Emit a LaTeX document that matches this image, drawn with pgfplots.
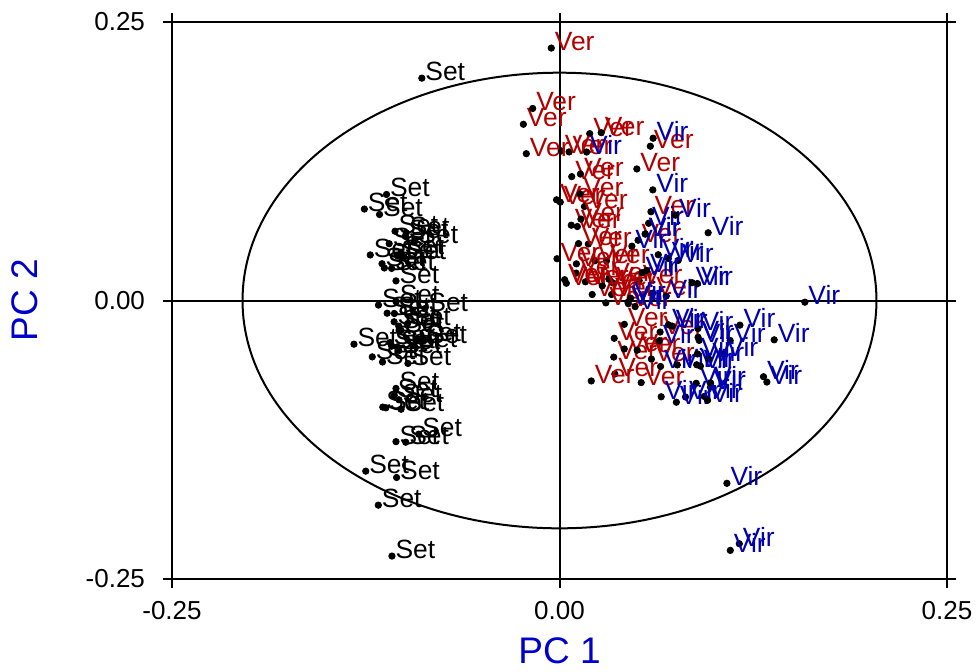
\documentclass[border=0pt]{standalone}
\usepackage{fontspec}
\setmainfont{Liberation Sans}
\usepackage{pgfplots}
\pgfplotsset{compat=1.18}
\definecolor{verc}{RGB}{178,0,0}
\definecolor{virc}{RGB}{0,0,178}
\definecolor{labc}{RGB}{0,0,205}
\begin{document}
\begin{tikzpicture}
\useasboundingbox (-86pt,-46pt) rectangle (403pt,289.5pt);
\begin{axis}[
  at={(0,0)}, anchor=south west,
  width=387.5pt, height=278.5pt, scale only axis,
  xmin=-0.25, xmax=0.25, ymin=-0.25, ymax=0.25,
  xtick={-0.25,0,0.25}, xticklabels={-0.25,0.00,0.25},
  ytick={-0.25,0,0.25}, yticklabels={-0.25,0.00,0.25},
  tick align=outside, major tick length=4.5pt,
  every tick/.style={black, line width=1pt},
  axis line style={line width=1pt},
  ticklabel style={font=\fontsize{13}{15}\selectfont},
  xticklabel style={yshift=-3pt},
  yticklabel style={xshift=-5.5pt},
  xlabel={PC 1}, ylabel={PC 2},
  label style={font=\fontsize{18.5}{21}\selectfont, text=labc},
  xlabel style={at={([yshift=-36pt]axis description cs:0.5,0)}, anchor=center},
  ylabel style={at={([xshift=-73.5pt]axis description cs:0,0.5)}, anchor=center},
  clip=false,
  every node near coord/.append style={anchor=base west, inner sep=0pt, xshift=1.6pt, yshift=-1.2pt, font=\fontsize{13.2}{15}\selectfont},
]
\draw[line width=1pt] (axis cs:0,-0.25) -- (axis cs:0,0.25);
\draw[line width=1pt] (axis cs:-0.25,0) -- (axis cs:0.25,0);
\draw[line width=1pt] (axis cs:0,0) ellipse [x radius=0.2045, y radius=0.2045];

\addplot[only marks, mark=*, mark size=1.6pt, black, nodes near coords={Set}, nodes near coords style={text=black}] table {
x y
-0.1083 -0.0410
-0.0995 0.0576
-0.1130 0.0292
-0.1099 0.0510
-0.1142 -0.0552
-0.0992 -0.1272
-0.1168 -0.0041
-0.1067 -0.0191
-0.1116 0.0952
-0.1044 0.0400
-0.1036 -0.0891
-0.1112 -0.0114
-0.1061 0.0622
-0.1259 0.0821
-0.1051 -0.1589
-0.1081 -0.2294
-0.1055 -0.1267
-0.1047 -0.0418
-0.0908 -0.1200
-0.1120 -0.0963
-0.0915 -0.0349
-0.1055 -0.0789
-0.1326 -0.0392
-0.0869 -0.0073
-0.1065 -0.0117
-0.0933 0.0534
-0.0980 -0.0207
-0.1037 -0.0450
-0.1023 -0.0268
-0.1083 0.0288
-0.1023 0.0431
-0.0876 -0.0362
-0.1250 -0.1532
-0.1169 -0.1837
-0.1009 0.0393
-0.1055 0.0176
-0.0978 -0.0565
-0.1208 -0.0506
-0.1161 0.0772
-0.1037 -0.0230
-0.1093 -0.0377
-0.0888 0.1996
-0.1221 0.0409
-0.0939 -0.0403
-0.1022 -0.0976
-0.0989 0.0607
-0.1140 -0.0957
-0.1145 0.0330
-0.1066 -0.0852
-0.1053 -0.0008
};

\addplot[only marks, mark=*, mark size=1.6pt, black, nodes near coords={Ver}, nodes near coords style={text=verc}] table {
x y
0.0527 -0.0737
0.0350 -0.0508
0.0593 -0.0526
0.0195 0.1498
0.0514 0.0178
0.0186 0.0507
0.0357 -0.0660
-0.0233 0.1582
0.0444 -0.0028
0.0005 0.0883
-0.0053 0.2266
0.0211 0.0054
0.0269 0.1507
0.0344 0.0159
-0.0016 0.0375
0.0418 -0.0435
0.0167 0.0168
0.0076 0.0676
0.0586 0.1385
0.0079 0.1112
0.0353 -0.0339
0.0228 0.0356
0.0590 0.0797
0.0303 0.0356
0.0336 0.0054
0.0418 -0.0214
0.0601 0.0066
0.0649 -0.0283
0.0318 0.0193
-0.0019 0.0904
0.0062 0.1334
0.0011 0.1343
0.0115 0.0664
0.0507 0.0541
0.0107 0.0246
0.0205 -0.0722
0.0501 -0.0446
0.0499 0.1181
0.0033 0.0187
0.0135 0.1135
0.0133 0.0956
0.0299 -0.0021
0.0161 0.0844
-0.0173 0.1724
0.0138 0.0731
0.0044 0.0155
0.0109 0.0329
0.0276 0.0132
-0.0214 0.1318
0.0123 0.0511
};

\addplot[only marks, mark=*, mark size=1.6pt, black, nodes near coords={Vir}, nodes near coords style={text=virc}] table {
x y
0.0882 -0.0743
0.0553 0.0597
0.1054 -0.0480
0.0688 0.0040
0.0893 -0.0252
0.1316 -0.0684
0.0175 0.1333
0.1101 -0.0359
0.0959 0.0608
0.1080 -0.1641
0.0652 -0.0592
0.0766 0.0360
0.0901 -0.0358
0.0602 0.0993
0.0702 0.0378
0.0760 -0.0578
0.0703 -0.0218
0.1160 -0.2183
0.1583 -0.0015
0.0604 0.1457
0.0974 -0.0778
0.0467 0.0488
0.1385 -0.0353
0.0637 0.0411
0.0813 -0.0866
0.0934 -0.0861
0.0562 0.0270
0.0488 -0.0055
0.0855 0.0160
0.0891 -0.0480
0.1164 -0.0221
0.1102 -0.2243
0.0890 0.0152
0.0533 0.0250
0.0575 0.0693
0.1338 -0.0732
0.0754 -0.0913
0.0644 -0.0361
0.0442 -0.0015
0.0885 -0.0577
0.0963 -0.0524
0.0909 -0.0589
0.0553 0.0597
0.0975 -0.0741
0.0955 -0.0896
0.0894 -0.0330
0.0748 0.0766
0.0727 -0.0230
0.0656 -0.0864
0.0459 0.0021
};
\end{axis}
\end{tikzpicture}
\end{document}
